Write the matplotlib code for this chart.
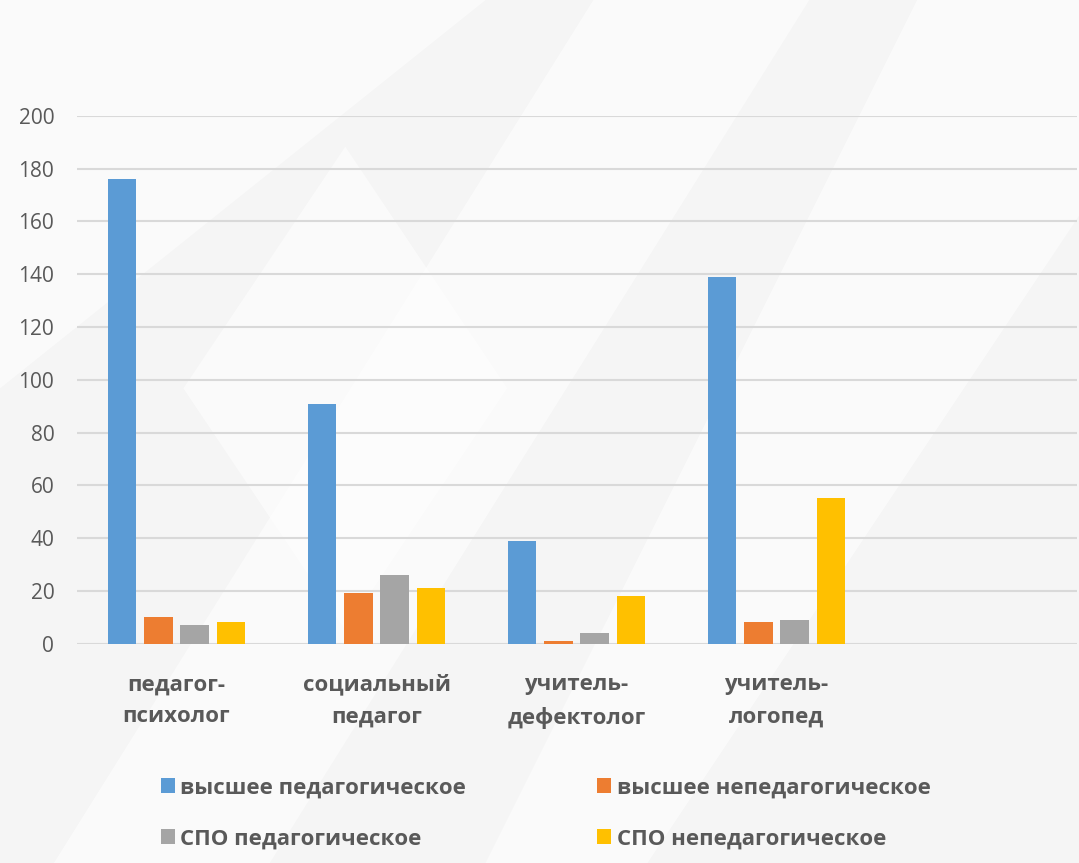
import matplotlib
matplotlib.use("Agg")
import matplotlib.pyplot as plt
from matplotlib.patches import Polygon
import numpy as np

# categories (the fifth slot is empty in the source chart)
categories = ["педагог-\nпсихолог", "социальный\nпедагог", "учитель-\nдефектолог", "учитель-\nлогопед", ""]
series_names = ["высшее педагогическое", "высшее непедагогическое",
                "СПО педагогическое", "СПО непедагогическое"]
higher_ped = [176, 91, 39, 139]
higher_nonped = [10, 19, 1, 8]
spo_ped = [7, 26, 4, 9]
spo_nonped = [8, 21, 18, 55]
y_ticks = [0, 20, 40, 60, 80, 100, 120, 140, 160, 180, 200]

colors = ["#5B9BD5", "#ED7D31", "#A5A5A5", "#FFC000"]
text_color = "#595959"

plt.rcParams["font.family"] = ["Open Sans", "DejaVu Sans"]

fig = plt.figure(figsize=(10.79, 8.63), dpi=100, facecolor="#f5f5f5")

# faint decorative background shapes (slide backdrop)
bg_shapes = [
    [(0.0, 1.0), (0.45, 1.0), (0.0, 0.55)],
    [(0.17, 0.55), (0.32, 0.83), (0.47, 0.55), (0.32, 0.27)],
    [(0.55, 1.0), (0.75, 1.0), (0.25, 0.0), (0.05, 0.0)],
    [(0.85, 1.0), (1.0, 1.0), (1.0, 0.75), (0.6, 0.0), (0.45, 0.0)],
]
for pts in bg_shapes:
    fig.patches.append(Polygon(pts, closed=True, transform=fig.transFigure,
                               facecolor="white", edgecolor="none", alpha=0.55, zorder=-5))

ax = fig.add_axes([0.0709, 0.2543, 0.9268, 0.6113])
ax.set_facecolor("none")

x = np.arange(len(higher_ped))
step = 0.1815
width = 0.1425
all_series = [higher_ped, higher_nonped, spo_ped, spo_nonped]
handles = []
for i, (vals, name) in enumerate(zip(all_series, series_names)):
    h = ax.bar(x + (i - 1.5) * step, vals, width, color=colors[i], label=name, zorder=3)
    handles.append(h)

ax.set_xlim(-0.5, len(categories) - 0.5)
ax.set_ylim(0, 200)
ax.set_yticks(y_ticks)
ax.set_yticklabels([str(v) for v in y_ticks], fontsize=15, color=text_color)
ax.set_xticks(np.arange(len(categories)))
ax.set_xticklabels(categories, fontsize=16, fontweight="bold", color=text_color)
for lbl in ax.get_xticklabels():
    lbl.set_linespacing(1.7)

ax.tick_params(axis="both", length=0)
ax.tick_params(axis="x", pad=22)
ax.tick_params(axis="y", pad=16)
ax.grid(axis="y", color="#d9d9d9", linewidth=1.5, zorder=0)
for s in ax.spines.values():
    s.set_visible(False)

# legend fills row by row in the original
order = [0, 2, 1, 3]
fig.legend([handles[k] for k in order], [series_names[k] for k in order],
           loc="upper left", bbox_to_anchor=(0.149, 0.099), ncol=2,
           frameon=False, borderpad=0, borderaxespad=0,
           handlelength=0.63, handleheight=0.63, handletextpad=0.25,
           columnspacing=5.9, labelspacing=1.35,
           prop={"size": 16, "weight": "bold"}, labelcolor=text_color)

fig.savefig("out.png", dpi=100, facecolor=fig.get_facecolor())
